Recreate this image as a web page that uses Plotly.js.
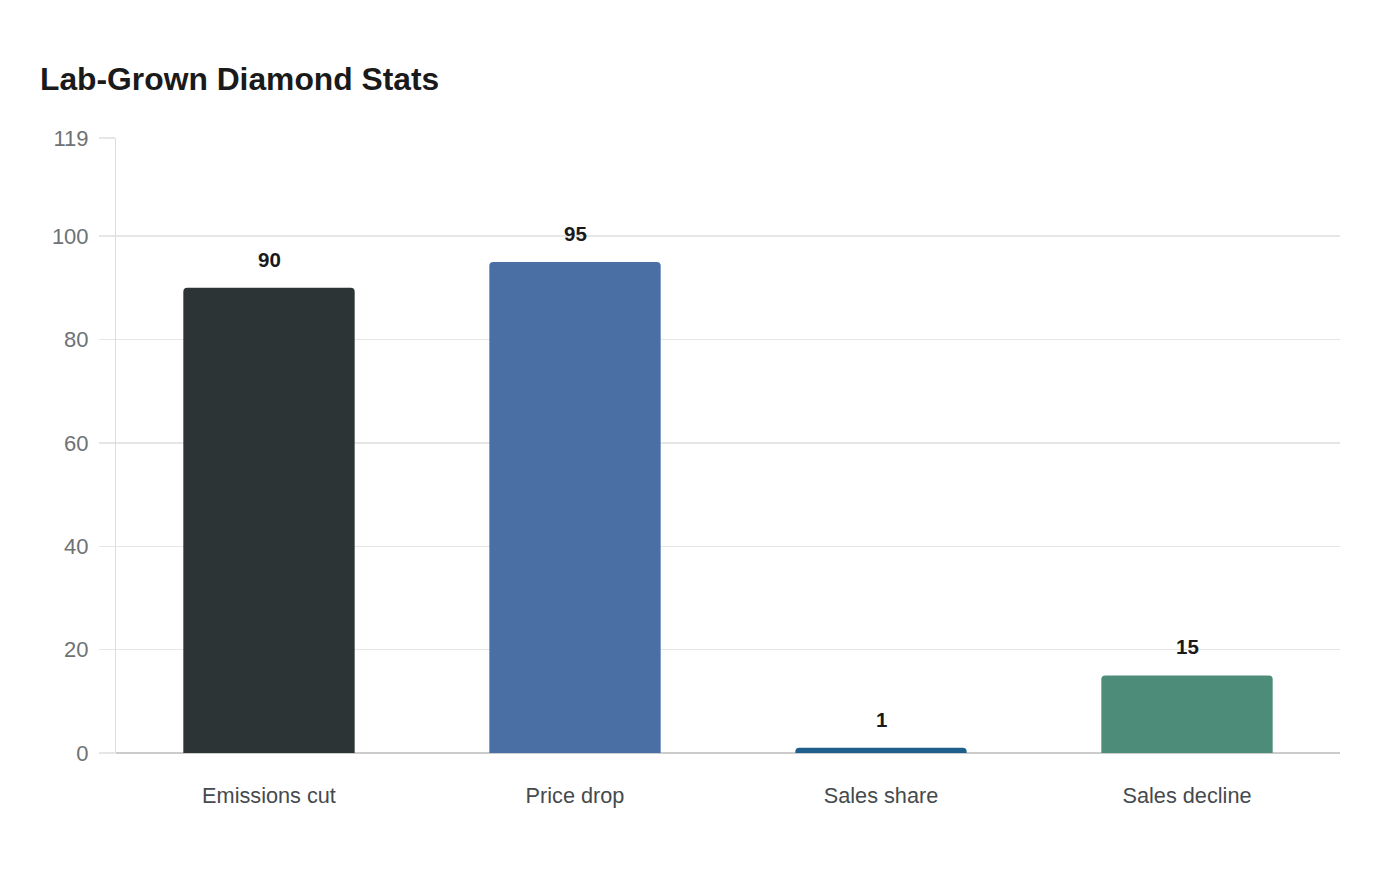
<!DOCTYPE html>
<html>
<head>
<meta charset="utf-8">
<script src="https://cdn.plot.ly/plotly-3.0.1.min.js"></script>
<style>html,body{margin:0;padding:0;background:#fff;}#chart{width:1400px;height:880px;}</style>
</head>
<body>
<div id="chart"></div>
<script>
const categories = ["Emissions cut", "Price drop", "Sales share", "Sales decline"];
const values = [90, 95, 1, 15];
const barColors = ["#2d3436", "#4a6fa5", "#1f5f8b", "#4e8c7a"];
const yTickVals = [0, 20, 40, 60, 80, 100, 119];
const yTickText = ["0", "20", "40", "60", "80", "100", "119"];

const trace = {
  type: "bar",
  x: categories,
  y: values,
  marker: { color: barColors, cornerradius: 4, line: { width: 0 } },
  hoverinfo: "x+y"
};

const annotations = categories.map((c, i) => ({
  x: c, y: values[i], xref: "x", yref: "y",
  text: "<b>" + values[i] + "</b>",
  showarrow: false, yanchor: "bottom", yshift: 15,
  font: { family: "Liberation Sans, Arial, sans-serif", size: 20.5, color: "#1a1a1a" }
}));

const layout = {
  width: 1400, height: 880,
  paper_bgcolor: "#ffffff", plot_bgcolor: "#ffffff",
  margin: { l: 116, r: 60, t: 138, b: 127 },
  title: {
    text: "<b>Lab-Grown Diamond Stats</b>",
    x: 40 / 1400, xanchor: "left", xref: "container",
    y: 1 - 79 / 880, yanchor: "middle", yref: "container",
    font: { family: "Liberation Sans, Arial, sans-serif", size: 31.8, color: "#1a1a1a" }
  },
  bargap: 0.44,
  showlegend: false,
  xaxis: {
    type: "category",
    tickfont: { family: "Liberation Sans, Arial, sans-serif", size: 21.7, color: "#454a4d" },
    showgrid: false, showline: false, zeroline: false,
    ticks: "", ticklabelstandoff: 27
  },
  yaxis: {
    range: [0, 119],
    tickvals: yTickVals, ticktext: yTickText,
    tickfont: { family: "Liberation Sans, Arial, sans-serif", size: 22, color: "#6e7275" },
    showgrid: true, gridcolor: "#e6e6e6", gridwidth: 1.5,
    ticks: "outside", ticklen: 16, tickcolor: "#e6e6e6", tickwidth: 1.5,
    ticklabelstandoff: 6,
    showline: true, linecolor: "#dddddd", linewidth: 1,
    zeroline: true, zerolinecolor: "#cccccc", zerolinewidth: 2
  },
  annotations: annotations,
  font: { family: "Liberation Sans, Arial, sans-serif" }
};

Plotly.newPlot("chart", [trace], layout, { displayModeBar: false, staticPlot: true });
</script>
</body>
</html>
